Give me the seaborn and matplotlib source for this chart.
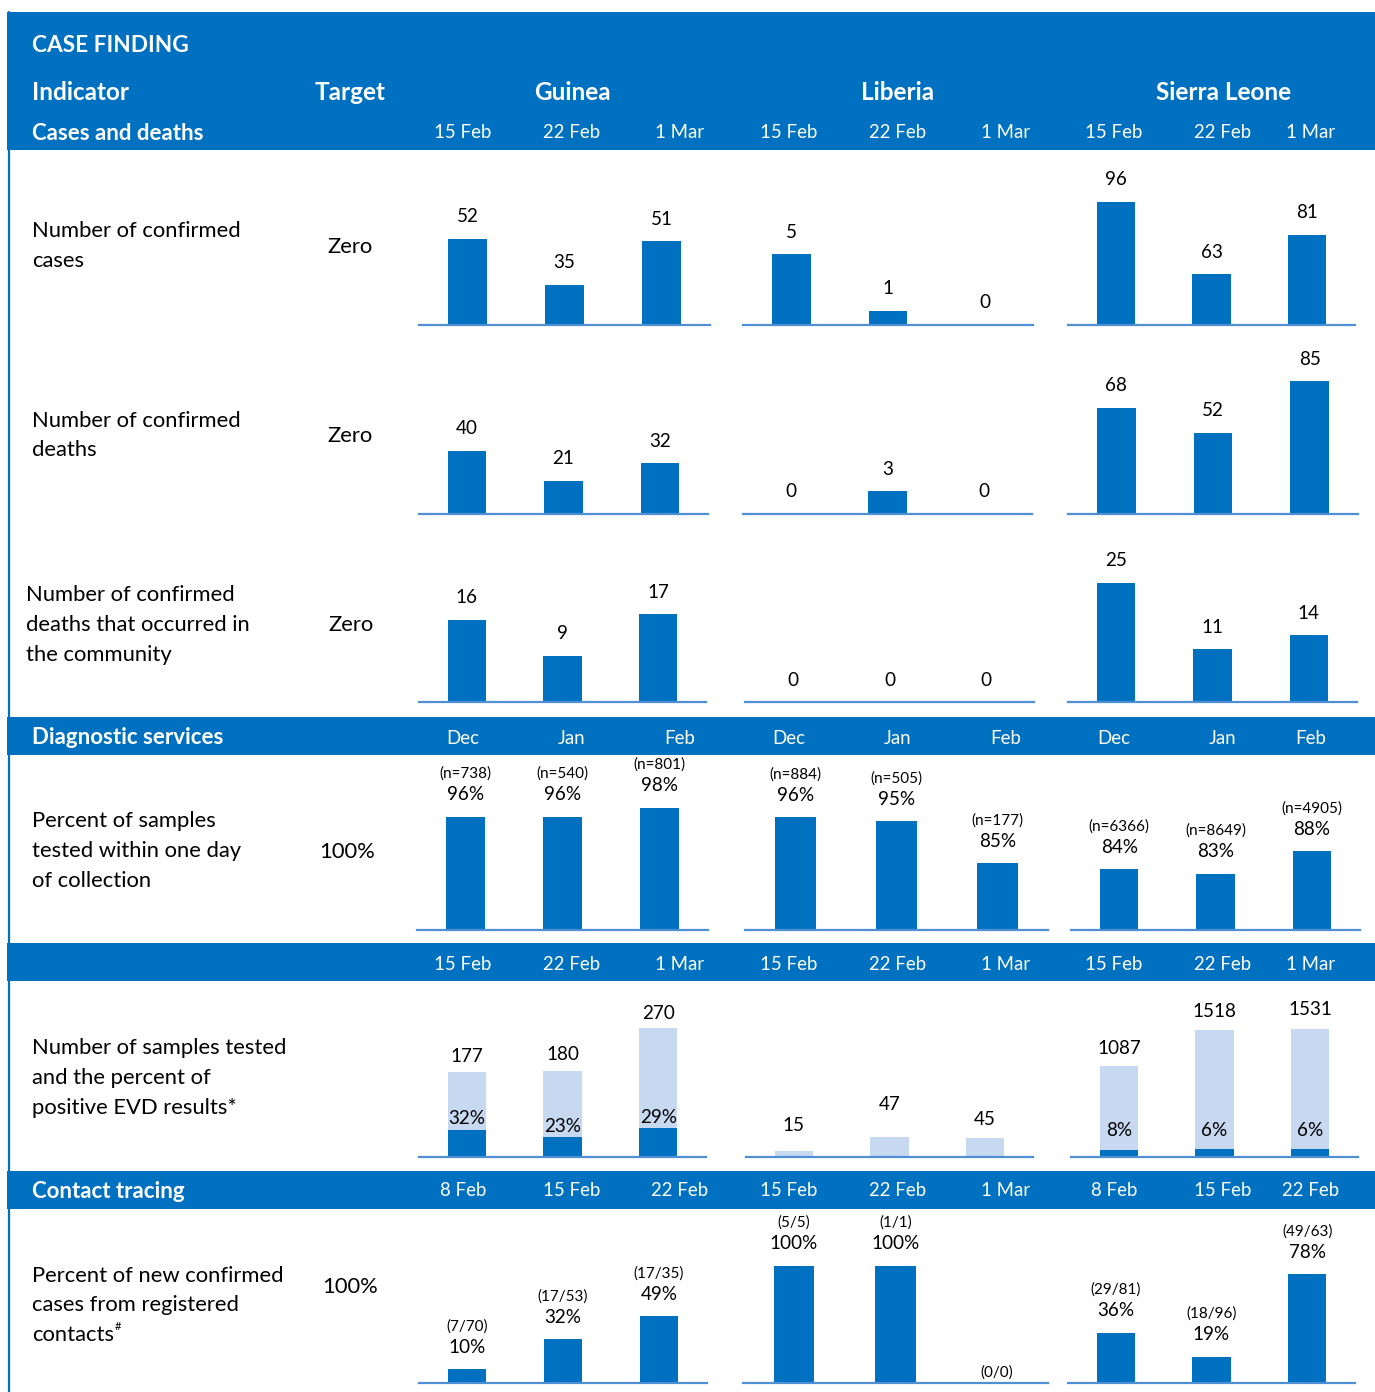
import matplotlib
matplotlib.use("Agg")
import matplotlib.pyplot as plt
from matplotlib.patches import Rectangle
from matplotlib.lines import Line2D
import seaborn as sns
import pandas as pd

sns.set_theme(style="white")
plt.rcParams['font.family'] = ['Lato', 'DejaVu Sans']

# ---------------- data ----------------
countries = ["Guinea", "Liberia", "Sierra Leone"]
weeks = ["15 Feb", "22 Feb", "1 Mar"]
months = ["Dec", "Jan", "Feb"]
contact_weeks = {"Guinea": ["8 Feb", "15 Feb", "22 Feb"],
                 "Liberia": ["15 Feb", "22 Feb", "1 Mar"],
                 "Sierra Leone": ["8 Feb", "15 Feb", "22 Feb"]}

confirmed_cases = {"Guinea": [52, 35, 51], "Liberia": [5, 1, 0], "Sierra Leone": [96, 63, 81]}
confirmed_deaths = {"Guinea": [40, 21, 32], "Liberia": [0, 3, 0], "Sierra Leone": [68, 52, 85]}
community_deaths = {"Guinea": [16, 9, 17], "Liberia": [0, 0, 0], "Sierra Leone": [25, 11, 14]}

pct_tested_1day = {"Guinea": [96, 96, 98], "Liberia": [96, 95, 85], "Sierra Leone": [84, 83, 88]}
pct_tested_n = {"Guinea": ["(n=738)", "(n=540)", "(n=801)"],
                "Liberia": ["(n=884)", "(n=505)", "(n=177)"],
                "Sierra Leone": ["(n=6366)", "(n=8649)", "(n=4905)"]}

samples_tested = {"Guinea": [177, 180, 270], "Liberia": [15, 47, 45], "Sierra Leone": [1087, 1518, 1531]}
samples_positive = {"Guinea": [57, 41, 60], "Liberia": [0, 0, 0], "Sierra Leone": [87, 91, 92]}
pct_positive_labels = {"Guinea": ["32%", "23%", "29%"], "Liberia": ["", "", ""],
                       "Sierra Leone": ["8%", "6%", "6%"]}

pct_from_contacts = {"Guinea": [10, 32, 49], "Liberia": [100, 100, 0], "Sierra Leone": [36, 19, 78]}
contacts_frac = {"Guinea": ["(7/70)", "(17/53)", "(17/35)"],
                 "Liberia": ["(5/5)", "(1/1)", "(0/0)"],
                 "Sierra Leone": ["(29/81)", "(18/96)", "(49/63)"]}
contacts_pct_shown = {"Guinea": [True, True, True], "Liberia": [True, True, False],
                      "Sierra Leone": [True, True, True]}

# ---------------- style / layout ----------------
W, H = 1375, 1392
BLUE = "#0070C0"
LIGHT = "#C6D9F1"
AXIS = "#4F8FD4"
HEAD_FS, TITLE_FS, SECT_FS = 17.5, 16.3, 16
DATE_FS, ROW_FS, TARGET_FS, VAL_FS, SMALL_FS = 13.4, 15.8, 15.8, 13.6, 11
TEXT_DY = 2  # small vertical nudge (px) for font metrics

fig = plt.figure(figsize=(W / 100, H / 100), dpi=100)
fig.patch.set_facecolor("white")


def fx(x):
    return x / W


def fy(y):
    return 1 - y / H


def ftext(x, y, s, **kw):
    kw.setdefault("va", "center")
    kw.setdefault("color", "black")
    fig.text(fx(x), fy(y + TEXT_DY), s, **kw)


def band(y0, y1):
    fig.add_artist(Rectangle((fx(7), fy(y1)), fx(1375) - fx(7), fy(y0) - fy(y1),
                             transform=fig.transFigure, color=BLUE, lw=0, zorder=0))


# frame bands
band(12, 150)
band(717, 755)
band(943, 981)
band(1171, 1209)
fig.add_artist(Line2D([fx(8.5), fx(8.5)], [fy(12), fy(1392)], transform=fig.transFigure,
                      color=BLUE, lw=1.6))

# header texts
ftext(32, 44, "CASE FINDING", color="white", fontsize=TITLE_FS, fontweight="bold")
ftext(32, 91, "Indicator", color="white", fontsize=HEAD_FS, fontweight="bold")
ftext(350, 91, "Target", color="white", fontsize=HEAD_FS, fontweight="bold", ha="center")
for c, xc in zip(countries, [572, 898, 1224]):
    ftext(xc, 91, c, color="white", fontsize=HEAD_FS, fontweight="bold", ha="center")
ftext(32, 131, "Cases and deaths", color="white", fontsize=SECT_FS, fontweight="bold")
ftext(32, 736, "Diagnostic services", color="white", fontsize=SECT_FS, fontweight="bold")
ftext(32, 1189, "Contact tracing", color="white", fontsize=SECT_FS, fontweight="bold")

col_x = {"Guinea": [463, 572, 680], "Liberia": [789, 898, 1006], "Sierra Leone": [1114, 1223, 1311]}
for c in countries:
    for lab, xc in zip(weeks, col_x[c]):
        ftext(xc, 131, lab, color="white", fontsize=DATE_FS, ha="center")
        ftext(xc, 963, lab, color="white", fontsize=DATE_FS, ha="center")
    for lab, xc in zip(months, col_x[c]):
        ftext(xc, 736, lab, color="white", fontsize=DATE_FS, ha="center")
    for lab, xc in zip(contact_weeks[c], col_x[c]):
        ftext(xc, 1189, lab, color="white", fontsize=DATE_FS, ha="center")

# row labels
row_labels = [
    (32, ["Number of confirmed", "cases"], [229, 259]),
    (32, ["Number of confirmed", "deaths"], [419, 448]),
    (26, ["Number of confirmed", "deaths that occurred in", "the community"], [593, 623, 653]),
    (32, ["Percent of samples", "tested within one day", "of collection"], [819, 849, 879]),
    (32, ["Number of samples tested", "and the percent of", "positive EVD results*"], [1046, 1076, 1106]),
    (32, ["Percent of new confirmed", "cases from registered", "contacts"], [1274, 1303, 1333]),
]
for x0, lines, ys in row_labels:
    for ln, yy in zip(lines, ys):
        ftext(x0, yy, ln, fontsize=ROW_FS)
ftext(115, 1324, "#", fontsize=8)

targets = [("Zero", 350, 245), ("Zero", 350, 434), ("Zero", 351, 623),
           ("100%", 347, 850), ("100%", 350, 1285)]
for t, xx, yy in targets:
    ftext(xx, yy, t, fontsize=TARGET_FS, ha="center")

ROW_BASE = [325, 514, 702, 930, 1157, 1383]
ROW_H = 170
PANEL_X = [
    [(419, 710), (743, 1033), (1068, 1355)],
    [(419, 708), (743, 1032), (1068, 1358)],
    [(419, 706), (745, 1034), (1068, 1357)],
    [(417, 708), (745, 1048), (1071, 1360)],
    [(419, 706), (746, 1033), (1071, 1358)],
    [(419, 707), (743, 1048), (1068, 1355)],
]
YLIM = [
    [(20, 83), (0, 12), (40, 117.3)],
    [(0, 107.6), (0, 22.2), (0, 109)],
    [(0, 33), (0, 10), (0, 35.6)],
    [(70, 109), (69, 109.7), (70.5, 108.3)],
    [(0, 356), (0, 395), (0, 2033)],
    [(0, 125), (0, 145), (0, 122)],
]
PT = 0.72  # points per pixel


def make_ax(r, k):
    x0, x1 = PANEL_X[r][k]
    yb = ROW_BASE[r]
    ax = fig.add_axes([fx(x0), fy(yb), (x1 - x0) / W, ROW_H / H])
    return ax


def finish(ax, r, k):
    ax.set_ylim(*YLIM[r][k])
    ax.set_xlim(-0.5, 2.5)
    ax.set_xticks([])
    ax.set_yticks([])
    ax.set_xlabel("")
    ax.set_ylabel("")
    ax.set_facecolor("none")
    for s in ["top", "left", "right"]:
        ax.spines[s].set_visible(False)
    ax.spines["bottom"].set_color(AXIS)
    ax.spines["bottom"].set_linewidth(1.6)


def label(ax, x, y, s, off_px, fs):
    ax.annotate(s, xy=(x, y), xytext=(0, (off_px - TEXT_DY) * PT), textcoords="offset points",
                ha="center", va="center", fontsize=fs, color="black", annotation_clip=False)


def simple_row(r, data, cats_per_country):
    for k, c in enumerate(countries):
        ax = make_ax(r, k)
        cats = cats_per_country(c)
        df = pd.DataFrame({"period": cats, "value": data[c]})
        sns.barplot(data=df, x="period", y="value", order=cats, ax=ax, color=BLUE,
                    saturation=1, width=0.4, errorbar=None, linewidth=0)
        finish(ax, r, k)
        yield ax, c


# Rows 1-3: counts
for r, data in enumerate([confirmed_cases, confirmed_deaths, community_deaths]):
    for ax, c in simple_row(r, data, lambda c: weeks):
        for p, v in zip(ax.patches, data[c]):
            label(ax, p.get_x() + p.get_width() / 2, p.get_height(), str(v), 24, VAL_FS)

# Row 4: percent tested within one day
for ax, c in simple_row(3, pct_tested_1day, lambda c: months):
    for p, v, n in zip(ax.patches, pct_tested_1day[c], pct_tested_n[c]):
        xc = p.get_x() + p.get_width() / 2
        label(ax, xc, p.get_height(), f"{v}%", 24, VAL_FS)
        label(ax, xc, p.get_height(), n, 45, SMALL_FS)

# Row 5: samples tested (stacked)
total_label_gap = {"Guinea": [18, 19, 17], "Liberia": [27, 34, 20], "Sierra Leone": [20, 21, 21]}
for k, c in enumerate(countries):
    ax = make_ax(4, k)
    df = pd.DataFrame({"period": weeks, "tested": samples_tested[c], "positive": samples_positive[c]})
    sns.barplot(data=df, x="period", y="tested", order=weeks, ax=ax, color=LIGHT,
                saturation=1, width=0.4, errorbar=None, linewidth=0)
    sns.barplot(data=df, x="period", y="positive", order=weeks, ax=ax, color=BLUE,
                saturation=1, width=0.4, errorbar=None, linewidth=0)
    finish(ax, 4, k)
    tot_bars = ax.patches[:3]
    pos_bars = ax.patches[3:6]
    scale = ROW_H / (YLIM[4][k][1] - YLIM[4][k][0])
    for pt, pp, t, pl, gap in zip(tot_bars, pos_bars, samples_tested[c], pct_positive_labels[c],
                                  total_label_gap[c]):
        xc = pt.get_x() + pt.get_width() / 2
        label(ax, xc, pt.get_height(), str(t), gap, VAL_FS)
        if pl:
            off = max(pp.get_height() * scale + 13, 28)
            label(ax, xc, 0, pl, off, VAL_FS)

# Row 6: percent of new confirmed cases from registered contacts
for ax, c in simple_row(5, pct_from_contacts, lambda c: contact_weeks[c]):
    for p, v, fr, shown in zip(ax.patches, pct_from_contacts[c], contacts_frac[c], contacts_pct_shown[c]):
        xc = p.get_x() + p.get_width() / 2
        if shown:
            label(ax, xc, p.get_height(), f"{v}%", 24, VAL_FS)
            label(ax, xc, p.get_height(), fr, 45, SMALL_FS)
        else:
            label(ax, xc, p.get_height(), fr, 12, SMALL_FS)

fig.savefig("out.png", dpi=100, facecolor="white")
